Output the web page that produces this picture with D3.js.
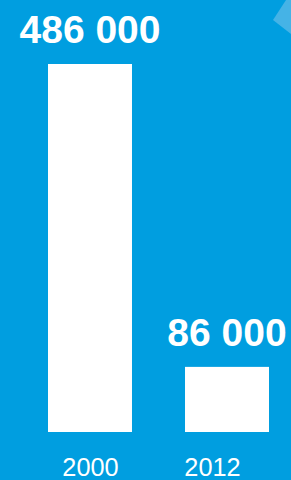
<!DOCTYPE html>
<html>
<head>
<meta charset="utf-8">
<script src="https://cdn.jsdelivr.net/npm/d3@7"></script>
<style>
  html, body { margin: 0; padding: 0; background: #009ee0; }
  svg { display: block; }
</style>
</head>
<body>
<div id="chart"></div>
<script>
var years = ["2000", "2012"];
var values = [486000, 86000];
var valueLabels = ["486 000", "86 000"];

var width = 291, height = 480;
var baseY = 432;

var svg = d3.select("#chart").append("svg")
  .attr("width", width)
  .attr("height", height);

svg.append("rect")
  .attr("width", width)
  .attr("height", height)
  .attr("fill", "#009ee0");

// little arrow shape in the top-right corner
svg.append("path")
  .attr("d", "M273,20 L286,0 L291,0 L291,34 Z")
  .attr("fill", "#45b3e6");

var x = d3.scaleBand()
  .domain(years)
  .range([48, 269])
  .paddingInner(0.387);

var y = d3.scaleLinear()
  .domain([0, 486000])
  .range([baseY, 64]);

// year labels sit a bit left of the second bar in the original
var xLabel = d3.scalePoint()
  .domain(years)
  .range([90.5, 212.5]);

svg.selectAll(".bar")
  .data(years)
  .enter()
  .append("rect")
  .attr("class", "bar")
  .attr("x", d => x(d))
  .attr("y", (d, i) => y(values[i]))
  .attr("width", x.bandwidth())
  .attr("height", (d, i) => baseY - y(values[i]))
  .attr("fill", "#ffffff");

svg.selectAll(".val")
  .data(years)
  .enter()
  .append("text")
  .attr("class", "val")
  .attr("x", d => x(d) + x.bandwidth() / 2)
  .attr("y", (d, i) => y(values[i]) - 21)
  .attr("text-anchor", "middle")
  .attr("font-family", "'Liberation Sans', Arial, sans-serif")
  .attr("font-weight", "bold")
  .attr("font-size", 39)
  .attr("fill", "#ffffff")
  .text((d, i) => valueLabels[i]);

svg.selectAll(".year")
  .data(years)
  .enter()
  .append("text")
  .attr("class", "year")
  .attr("x", d => xLabel(d))
  .attr("y", 476)
  .attr("text-anchor", "middle")
  .attr("font-family", "'Liberation Sans', Arial, sans-serif")
  .attr("font-size", 25.3)
  .attr("fill", "#ffffff")
  .text(d => d);
</script>
</body>
</html>
